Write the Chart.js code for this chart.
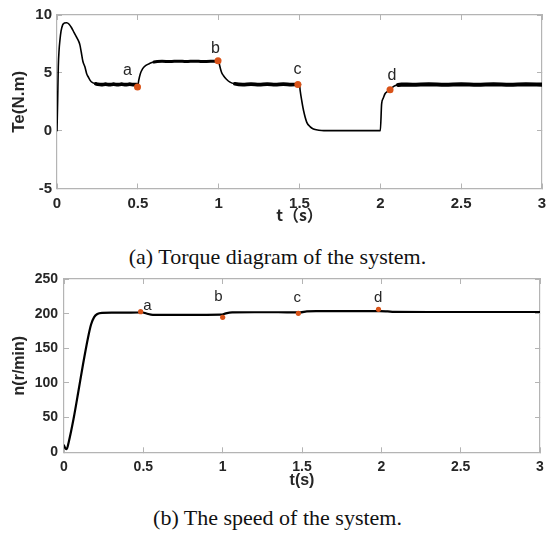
<!DOCTYPE html>
<html>
<head>
<meta charset="utf-8">
<script src="https://cdn.jsdelivr.net/npm/chart.js@4/dist/chart.umd.min.js"></script>
<style>
  html, body { margin:0; padding:0; background:#fff; }
  body { width:548px; height:540px; position:relative; overflow:hidden; }
  .box { position:absolute; left:0; width:548px; }
  .cap { position:absolute; left:0; width:555px; text-align:center; font-family:"Liberation Serif","Times New Roman",serif; font-size:22px; color:#111; white-space:nowrap; }
</style>
</head>
<body>
<div class="box" style="top:0;height:228px;"><canvas id="c1" width="548" height="228"></canvas></div>
<div class="cap" style="top:244px;">(a) Torque diagram of the system.</div>
<div class="box" style="top:265px;height:230px;"><canvas id="c2" width="548" height="230"></canvas></div>
<div class="cap" style="top:505px;">(b) The speed of the system.</div>
<script>
// ---------- Data: torque (a) ----------
const torqueT = [0,0.004,0.008,0.013,0.018,0.025,0.035,0.045,0.06,0.075,0.09,0.105,0.12,0.135,0.142,0.15,0.16,0.173,0.183,0.195,0.205,0.22,0.24,0.25,
  0.275,0.3,0.325,0.35,0.375,0.4,0.425,0.45,0.475,0.495,0.5,
  0.505,0.515,0.53,0.55,0.575,0.6,0.62,
  0.65,0.7,0.75,0.8,0.85,0.9,0.95,0.99,1.0,
  1.005,1.017,1.03,1.048,1.07,1.1,
  1.15,1.2,1.25,1.3,1.35,1.4,1.45,1.5,
  1.504,1.515,1.525,1.545,1.565,1.586,1.62,1.65,1.8,2.0,
  2.008,2.018,2.029,2.045,2.06,2.075,2.09,2.11,2.13,
  2.2,2.3,2.4,2.5,2.6,2.7,2.8,2.9,3.0];
const torqueV = [0,2.5,5.5,7.0,7.8,8.6,9.15,9.3,9.33,9.2,8.9,8.5,8.1,7.7,7.4,6.8,6.0,5.5,4.95,4.6,4.35,4.15,4.05,4.02,
  3.98,4.02,3.98,4.02,3.98,4.02,3.98,4.02,3.98,3.98,3.85,
  4.3,4.9,5.36,5.65,5.82,5.93,5.98,
  6.0,5.98,6.01,5.98,6.01,5.98,6.0,6.0,6.05,
  5.7,5.07,4.75,4.45,4.2,4.05,
  3.98,4.02,3.98,4.02,3.98,4.02,3.98,4.0,
  3.48,2.5,1.74,0.72,0.35,0.14,0.04,0,0,0,
  2.32,2.8,3.19,3.4,3.55,3.75,3.88,3.95,3.98,
  3.97,4.01,3.97,4.01,3.97,4.01,3.97,4.01,3.98];
const torqueMarkT = [0.498,0.996,1.49,2.06];
const torqueMarkV = [3.77,6.05,4.0,3.54];
const markText = ['a','b','c','d'];
const torqueLabelT = [0.436,0.980,1.488,2.072];
const torqueLabelV = [4.81,6.71,4.90,4.38];
const torqueTicksX = [0,3,0.5];   // min, max, step
const torqueTicksY = [-5,10,5];

// ---------- Data: speed (b) ----------
const speedT = [0,0.008,0.017,0.03,0.06,0.09,0.12,0.152,0.17,0.19,0.21,0.24,0.3,0.4,0.47,0.49,0.52,0.56,0.7,0.85,0.99,1.02,1.06,1.2,1.35,1.46,1.49,1.53,1.6,1.8,1.95,1.99,2.04,2.08,2.3,2.6,3.0];
const speedV = [10,6,4.5,15,48,87,127,166,184,195,199.5,201.2,201.5,201.5,201.7,202,200.2,198.3,198.2,198.3,198.5,200.5,201.8,202,202,201.8,201.8,203.3,203.6,203.7,203.8,203.8,203.2,202.5,202.4,202.4,202.4];
const speedMarkT = [0.483,1.0,1.477,1.982];
const speedMarkV = [202.8,194.7,200.5,206.3];
const speedLabelT = [0.526,0.973,1.470,1.980];
const speedLabelV = [205.3,218.7,216.4,216.4];
const speedTicksX = [0,3,0.5];
const speedTicksY = [0,250,50];

// ---------- helpers ----------
const pts = (xs, ys) => xs.map((x, i) => ({x, y: ys[i]}));
const AX = '#b4b4b4';
const TXT = '#262626';
const SANS = '"Liberation Sans", Arial, sans-serif';
const fmt = v => String(Number(v));

const letterPlugin = {
  id: 'letters',
  afterDatasetsDraw(chart, args, o) {
    const {ctx, scales: {x, y}} = chart;
    ctx.save();
    ctx.font = o.font;
    ctx.fillStyle = o.color;
    ctx.textAlign = 'center';
    ctx.textBaseline = 'alphabetic';
    o.t.forEach((t, i) => ctx.fillText(o.text[i], x.getPixelForValue(t), y.getPixelForValue(o.v[i])));
    ctx.restore();
  }
};

function steadyWidth(ranges, thin) {
  return ctx => {
    const a = ctx.p0.parsed.x, b = ctx.p1.parsed.x;
    const r = ranges.find(r => a >= r[0] && b <= r[1]);
    return r ? r[2] : thin;
  };
}

function makeChart(id, cfg) {
  const fx = (w) => (s) => { s.width = w; s.paddingTop = 0; s.paddingBottom = 0; };
  const fy = (h) => (s) => { s.height = h; s.paddingLeft = 0; s.paddingRight = 0; };
  return new Chart(document.getElementById(id), {
    type: 'line',
    data: { datasets: [
      { data: cfg.line, borderColor: '#000', borderWidth: cfg.lw, pointRadius: 0, cubicInterpolationMode: 'monotone', fill: false,
        borderJoinStyle: 'round', borderCapStyle: 'round',
        segment: cfg.segment ? { borderWidth: cfg.segment } : undefined, order: 2 },
      { type: 'scatter', data: cfg.marks, pointRadius: cfg.mr, pointBackgroundColor: '#D95319', pointBorderColor: '#D95319', pointBorderWidth: 0, order: 1 }
    ]},
    options: {
      responsive: false, animation: false, devicePixelRatio: 1,
      layout: { padding: cfg.pad },
      plugins: { legend: {display:false}, tooltip: {enabled:false},
        letters: { t: cfg.lt, v: cfg.lv, text: markText, font: cfg.lfont, color: TXT } },
      scales: {
        x: { type: 'linear', position: 'bottom', min: cfg.tx[0], max: cfg.tx[1],
          afterFit: fy(cfg.xh),
          ticks: { stepSize: cfg.tx[2], padding: cfg.xpad, color: TXT, font: { family: SANS, size: cfg.tf, weight: 'bold' }, maxRotation: 0, callback: fmt },
          grid: { drawOnChartArea: false, tickLength: -5, color: AX, tickColor: AX },
          border: { color: AX, width: 1.2 },
          title: { display: true, text: cfg.xt, color: TXT, font: { family: cfg.xtfam, size: cfg.xtf, weight: 'bold' }, padding: { top: 0, bottom: cfg.xtp } } },
        x2: { type: 'linear', position: 'top', min: cfg.tx[0], max: cfg.tx[1], afterFit: fy(0),
          ticks: { stepSize: cfg.tx[2], display: false },
          grid: { drawOnChartArea: false, tickLength: -5, color: AX, tickColor: AX },
          border: { color: AX, width: 1.2 } },
        y: { type: 'linear', position: 'left', min: cfg.ty[0], max: cfg.ty[1],
          afterFit: fx(cfg.yw),
          ticks: { stepSize: cfg.ty[2], padding: cfg.ypad, color: TXT, font: { family: SANS, size: cfg.tf, weight: 'bold' }, callback: fmt },
          grid: { drawOnChartArea: false, tickLength: -5, color: AX, tickColor: AX },
          border: { color: AX, width: 1.2 },
          title: { display: true, text: cfg.yt, color: TXT, font: { family: SANS, size: cfg.ytf, weight: 'bold' }, padding: { top: cfg.ytp, bottom: 0 } } },
        y2: { type: 'linear', position: 'right', min: cfg.ty[0], max: cfg.ty[1], afterFit: fx(0),
          ticks: { stepSize: cfg.ty[2], display: false },
          grid: { drawOnChartArea: false, tickLength: -5, color: AX, tickColor: AX },
          border: { color: AX, width: 1.2 } }
      }
    },
    plugins: [letterPlugin]
  });
}

makeChart('c1', {
  line: pts(torqueT, torqueV), lw: 1.4,
  segment: steadyWidth([[0.24,0.5,3.6],[0.6,1.0,3.0],[1.1,1.5,3.6],[2.11,3.0,4.2]], 1.6),
  marks: pts(torqueMarkT, torqueMarkV), mr: 3.5,
  lt: torqueLabelT, lv: torqueLabelV, lfont: '16px ' + SANS,
  tx: torqueTicksX, ty: torqueTicksY,
  pad: { top: 15, right: 6, left: 0, bottom: 0 },
  xh: 39.5, yw: 57, xpad: 11, ypad: 10, tf: 15,
  xt: 't（s）', xtfam: '"Noto Sans CJK SC", "Liberation Sans", sans-serif', xtf: 16, xtp: 3,
  yt: 'Te(N.m)', ytf: 17, ytp: 9
});

makeChart('c2', {
  line: pts(speedT, speedV), lw: 2.2,
  marks: pts(speedMarkT, speedMarkV), mr: 2.6,
  lt: speedLabelT, lv: speedLabelV, lfont: '15px ' + SANS,
  tx: speedTicksX, ty: speedTicksY,
  pad: { top: 14, right: 8, left: 0, bottom: 0 },
  xh: 42.7, yw: 64, xpad: 11, ypad: 11, tf: 14,
  xt: 't(s)', xtfam: SANS, xtf: 16, xtp: 4.5,
  yt: 'n(r/min)', ytf: 16, ytp: 9.5
});
</script>
</body>
</html>
